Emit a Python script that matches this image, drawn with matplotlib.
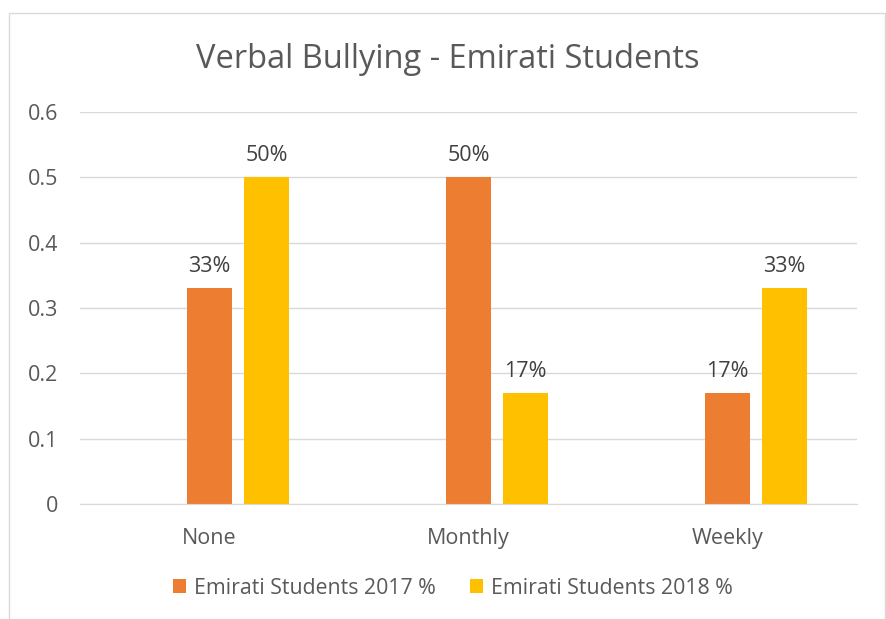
import matplotlib.pyplot as plt
from matplotlib.patches import Rectangle

# data
categories = ["None", "Monthly", "Weekly"]
series_names = ["Emirati Students 2017 %", "Emirati Students 2018 %"]
values_2017 = [0.33, 0.50, 0.17]
values_2018 = [0.50, 0.17, 0.33]
labels_2017 = ["33%", "50%", "17%"]
labels_2018 = ["50%", "17%", "33%"]
colors = ["#ED7D31", "#FFC000"]

plt.rcParams['font.family'] = ['Open Sans', 'DejaVu Sans']
text_color = "#595959"

fig = plt.figure(figsize=(8.87, 6.19), dpi=100)
ax = fig.add_axes([80 / 887, 115 / 619, 777 / 887, 392 / 619])

x = list(range(len(categories)))
width = 0.174
offset = 0.22

bars1 = ax.bar([i for i in x], values_2017, width, color=colors[0], label=series_names[0], zorder=3)
bars2 = ax.bar([i + offset for i in x], values_2018, width, color=colors[1], label=series_names[1], zorder=3)

# data labels
for bars, labs in [(bars1, labels_2017), (bars2, labels_2018)]:
    for b, lab in zip(bars, labs):
        ax.annotate(lab, (b.get_x() + b.get_width() / 2, b.get_height()),
                    xytext=(0, 8), textcoords="offset points",
                    ha="center", va="bottom", fontsize=15.5, color="#404040")

ax.set_xlim(-0.5, 2.5)
ax.set_ylim(0, 0.6)
ax.set_yticks([0, 0.1, 0.2, 0.3, 0.4, 0.5, 0.6])
ax.set_yticklabels(["0", "0.1", "0.2", "0.3", "0.4", "0.5", "0.6"])
ax.set_xticks(x)
ax.set_xticklabels(categories)
ax.tick_params(axis="both", length=0, labelsize=15.5, labelcolor=text_color)
ax.tick_params(axis="y", pad=16)
ax.tick_params(axis="x", pad=17)
ax.grid(axis="y", color="#D9D9D9", linewidth=1, zorder=0)
for s in ["top", "right", "left"]:
    ax.spines[s].set_visible(False)
ax.spines["bottom"].set_color("#D9D9D9")
ax.spines["bottom"].set_zorder(4)

# title
fig.text(448 / 887, 1 - 60 / 619, "Verbal Bullying - Emirati Students",
         ha="center", va="center", fontsize=23.5, color=text_color)

# legend
fig.legend(loc="center", bbox_to_anchor=(453 / 887, 1 - 588 / 619), ncol=2,
           frameon=False, fontsize=15.3, labelcolor=text_color,
           handlelength=0.6, handleheight=0.6, handletextpad=0.4, columnspacing=1.6)

# chart border
fig.patches.append(Rectangle((9 / 887, -0.05), 876 / 887, 1 - 13 / 619 + 0.05,
                             transform=fig.transFigure, fill=False,
                             edgecolor="#D9D9D9", linewidth=1))

fig.savefig("out.png", dpi=100)
